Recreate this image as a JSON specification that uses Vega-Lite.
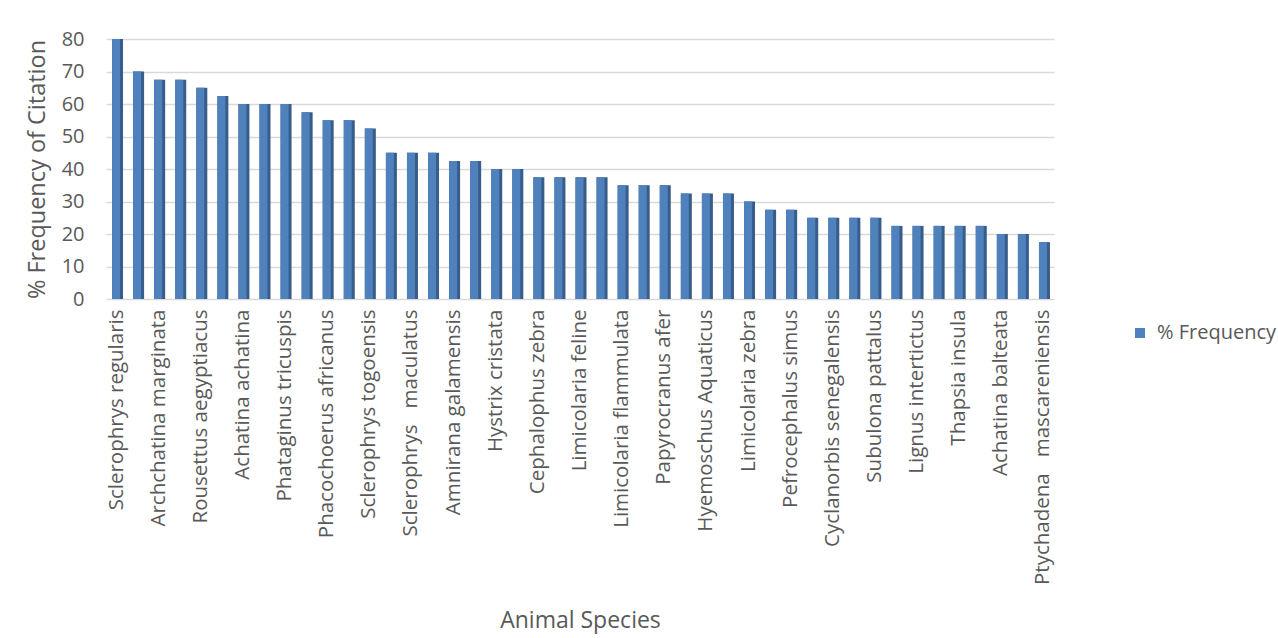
{
  "$schema": "https://vega.github.io/schema/vega-lite/v6.json",
  "width": 948,
  "height": 260,
  "autosize": {"type": "none"},
  "padding": {"left": 106, "top": 39, "right": 224, "bottom": 339},
  "background": "white",
  "config": {"font": "Open Sans", "view": {"stroke": null}},
  "data": {
    "values": [
      {"species": "Sclerophrys regularis", "pct": 80},
      {"species": "Species 2", "pct": 70},
      {"species": "Archchatina marginata", "pct": 67.5},
      {"species": "Species 4", "pct": 67.5},
      {"species": "Rousettus aegyptiacus", "pct": 65},
      {"species": "Species 6", "pct": 62.5},
      {"species": "Achatina achatina", "pct": 60},
      {"species": "Species 8", "pct": 60},
      {"species": "Phataginus tricuspis", "pct": 60},
      {"species": "Species 10", "pct": 57.5},
      {"species": "Phacochoerus africanus", "pct": 55},
      {"species": "Species 12", "pct": 55},
      {"species": "Sclerophrys togoensis", "pct": 52.5},
      {"species": "Species 14", "pct": 45},
      {"species": "Sclerophrys\u00a0\u00a0 maculatus", "pct": 45},
      {"species": "Species 16", "pct": 45},
      {"species": "Amnirana galamensis", "pct": 42.5},
      {"species": "Species 18", "pct": 42.5},
      {"species": "Hystrix cristata", "pct": 40},
      {"species": "Species 20", "pct": 40},
      {"species": "Cephalophus zebra", "pct": 37.5},
      {"species": "Species 22", "pct": 37.5},
      {"species": "Limicolaria feline", "pct": 37.5},
      {"species": "Species 24", "pct": 37.5},
      {"species": "Limicolaria flammulata", "pct": 35},
      {"species": "Species 26", "pct": 35},
      {"species": "Papyrocranus afer", "pct": 35},
      {"species": "Species 28", "pct": 32.5},
      {"species": "Hyemoschus Aquaticus", "pct": 32.5},
      {"species": "Species 30", "pct": 32.5},
      {"species": "Limicolaria zebra", "pct": 30},
      {"species": "Species 32", "pct": 27.5},
      {"species": "Pefrocephalus simus", "pct": 27.5},
      {"species": "Species 34", "pct": 25},
      {"species": "Cyclanorbis senegalensis", "pct": 25},
      {"species": "Species 36", "pct": 25},
      {"species": "Subulona pattalus", "pct": 25},
      {"species": "Species 38", "pct": 22.5},
      {"species": "Lignus intertictus", "pct": 22.5},
      {"species": "Species 40", "pct": 22.5},
      {"species": "Thapsia insula", "pct": 22.5},
      {"species": "Species 42", "pct": 22.5},
      {"species": "Achatina balteata", "pct": 20},
      {"species": "Species 44", "pct": 20},
      {"species": "Ptychadena\u00a0\u00a0 mascareniensis", "pct": 17.5}
    ]
  },
  "encoding": {
    "x": {
      "field": "species",
      "type": "nominal",
      "sort": null,
      "scale": {"paddingInner": 0.5, "paddingOuter": 0.25},
      "axis": {
        "values": ["Sclerophrys regularis", "Archchatina marginata", "Rousettus aegyptiacus", "Achatina achatina", "Phataginus tricuspis", "Phacochoerus africanus", "Sclerophrys togoensis", "Sclerophrys\u00a0\u00a0 maculatus", "Amnirana galamensis", "Hystrix cristata", "Cephalophus zebra", "Limicolaria feline", "Limicolaria flammulata", "Papyrocranus afer", "Hyemoschus Aquaticus", "Limicolaria zebra", "Pefrocephalus simus", "Cyclanorbis senegalensis", "Subulona pattalus", "Lignus intertictus", "Thapsia insula", "Achatina balteata", "Ptychadena\u00a0\u00a0 mascareniensis"],
        "labelAngle": -90,
        "labelFontSize": 20.5,
        "labelColor": "#595959",
        "labelPadding": 10,
        "labelLimit": 400,
        "ticks": false,
        "domain": false,
        "grid": false,
        "title": "Animal Species",
        "titleFontSize": 23,
        "titleFontWeight": "normal",
        "titleColor": "#595959",
        "titleY": 321,
        "titleBaseline": "middle"
      }
    },
    "y": {
      "field": "pct",
      "type": "quantitative",
      "scale": {"domain": [0, 80], "nice": false},
      "axis": {
        "values": [0, 10, 20, 30, 40, 50, 60, 70, 80],
        "grid": true,
        "gridColor": "#d9d9d9",
        "gridWidth": 1.5,
        "ticks": false,
        "domain": false,
        "labelFontSize": 20,
        "labelColor": "#595959",
        "labelPadding": 22,
        "title": "% Frequency of Citation",
        "titleFontSize": 23.5,
        "titleFontWeight": "normal",
        "titleColor": "#595959",
        "titlePadding": 12
      }
    }
  },
  "layer": [
    {
      "mark": {"type": "bar", "color": "#385d8a", "width": 11, "xOffset": 1}
    },
    {
      "mark": {"type": "bar", "width": 8, "xOffset": -0.5},
      "encoding": {
        "color": {
          "datum": "% Frequency",
          "scale": {"range": ["#4f81bd"]},
          "legend": {
            "title": null,
            "orient": "none",
            "legendX": 1024,
            "legendY": 284,
            "symbolType": "square",
            "symbolSize": 100,
            "symbolStrokeWidth": 0,
            "labelFontSize": 20,
            "labelColor": "#595959",
            "labelOffset": 7
          }
        }
      }
    }
  ]
}
